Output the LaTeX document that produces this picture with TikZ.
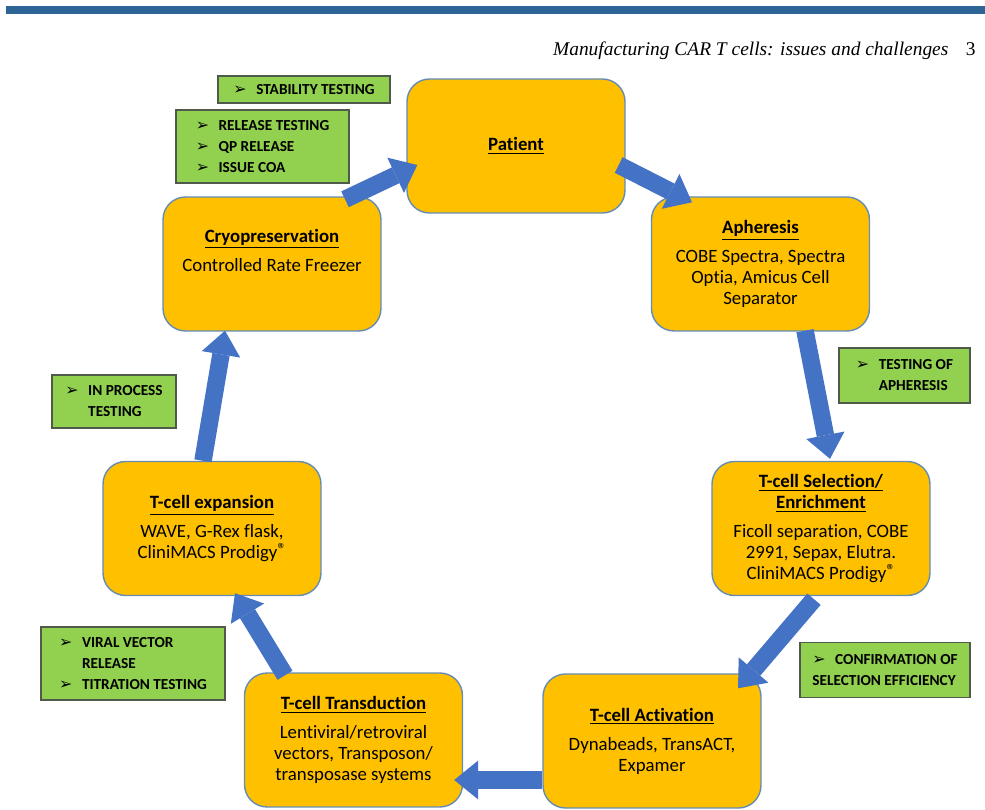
\documentclass[tikz,border=0pt]{standalone}
\usepackage{fontspec}
\setmainfont{Carlito}[Ligatures={NoCommon}]
\newfontfamily\headfont{Liberation Serif}
\newfontfamily\symfont{DejaVu Sans}
\usetikzlibrary{arrows.meta}
\definecolor{stagefill}{HTML}{FFC000}
\definecolor{stageline}{RGB}{100,140,180}
\definecolor{checkfill}{HTML}{92D050}
\definecolor{checkline}{RGB}{80,90,75}
\definecolor{flowblue}{HTML}{4472C4}
\definecolor{band}{RGB}{47,100,150}
\newcommand{\bul}{\makebox[13pt][l]{\symfont\fontsize{9}{9}\selectfont ➢}}
\newcommand{\ttl}[1]{\underline{\textbf{#1}}}
\newcommand{\reg}{\raisebox{1.5pt}{\fontsize{10}{10}\selectfont\textregistered}}
\tikzset{stage/.style = {draw=stageline, fill=stagefill, rounded corners=0.45cm, line width=0.8pt, minimum width=4.36cm, minimum height=2.68cm, align=center, font=\fontsize{10.7}{12}\selectfont}}
\tikzset{check/.style = {draw=checkline, fill=checkfill, line width=0.6pt, align=left, inner sep=0pt, font=\bfseries\fontsize{8.7}{12}\selectfont}}
\tikzset{flow/.style = {draw=flowblue, line width=0.35cm, -{Triangle[length=0.48cm, width=0.78cm, line width=0pt]}}}

\begin{document}
\begin{tikzpicture}[x=0.02cm, y=-0.02cm]
  \useasboundingbox (0,0) rectangle (985,810);
  % page head
  \fill[band] (6,6) rectangle (985,14);
  \node[anchor=base east, inner sep=0pt, font=\headfont\fontsize{11.05}{12}\selectfont] (head) at (976,56)
    {\textit{Manufacturing CAR T cells: issues and challenges}\hspace{10pt}3};

  % process stages
  \node [stage] (patient) at (516,146) {\ttl{Patient}};
  \node [stage] (apher) at (760.5,264) {\ttl{Apheresis}\\[4.5pt] COBE Spectra, Spectra\\ Optia, Amicus Cell\\ Separator};
  \node [stage] (select) at (821,528.5) {\ttl{T-cell Selection/}\\ \ttl{Enrichment}\\[4.5pt] Ficoll separation, COBE\\ 2991, Sepax, Elutra.\\ CliniMACS Prodigy\reg};
  \node [stage] (activ) at (652,741) {\ttl{T-cell Activation}\\[4.5pt] Dynabeads, TransACT,\\ Expamer};
  \node [stage] (transd) at (353.5,740) {\ttl{T-cell Transduction}\\[4.5pt] Lentiviral/retroviral\\ vectors, Transposon/\\ transposase systems};
  \node [stage] (expand) at (212,528.5) {\ttl{T-cell expansion}\\[4.5pt] WAVE, G-Rex flask,\\ CliniMACS Prodigy\reg};
  \node [stage] (cryo) at (272,264) {\ttl{Cryopreservation}\\[4.5pt] Controlled Rate Freezer\\ \strut};

  % quality checks
  \node [check, minimum width=3.44cm, minimum height=0.54cm] (tstab) at (304,89.5) {\bul STABILITY TESTING};
  \node [check, minimum width=3.46cm, minimum height=1.46cm] (trel) at (262.5,146.5) {\bul RELEASE TESTING\\ \bul QP RELEASE\\ \bul ISSUE COA};
  \node [check, minimum width=2.62cm, minimum height=1.1cm] (taph) at (904.5,375.5) {\bul TESTING OF\\ \hspace*{13pt}APHERESIS};
  \node [check, minimum width=3.4cm, minimum height=1.1cm] (tconf) at (885,670) {\bul CONFIRMATION OF\\ SELECTION EFFICIENCY};
  \node [check, minimum width=3.68cm, minimum height=1.46cm] (tvir) at (133,663.5) {\bul VIRAL VECTOR\\ \hspace*{13pt}RELEASE\\ \bul TITRATION TESTING};
  \node [check, minimum width=2.48cm, minimum height=1.06cm] (tproc) at (114,401.5) {\bul IN PROCESS\\ \hspace*{13pt}TESTING};

  % cycle arrows
  \draw[flow] ([shift={(73,3)}]cryo.north) -- ([shift={(11,19)}]patient.west);
  \draw[flow] ([shift={(-7,19)}]patient.east) -- ([shift={(-68.5,6)}]apher.north);
  \draw[flow] ([shift={(44.5,-1)}]apher.south) -- ([shift={(9,-2)}]select.north);
  \draw[flow] ([shift={(-7,3)}]select.south) -- ([shift={(86,15)}]activ.north);
  \draw[flow] ([shift={(0,39)}]activ.west) -- ([shift={(-9,40)}]transd.east);
  \draw[flow] ([shift={(-68.5,3)}]transd.north) -- ([shift={(23,-3)}]expand.south);
  \draw[flow] ([shift={(-9,0)}]expand.north) -- ([shift={(-47,-1)}]cryo.south);
\end{tikzpicture}
\end{document}
